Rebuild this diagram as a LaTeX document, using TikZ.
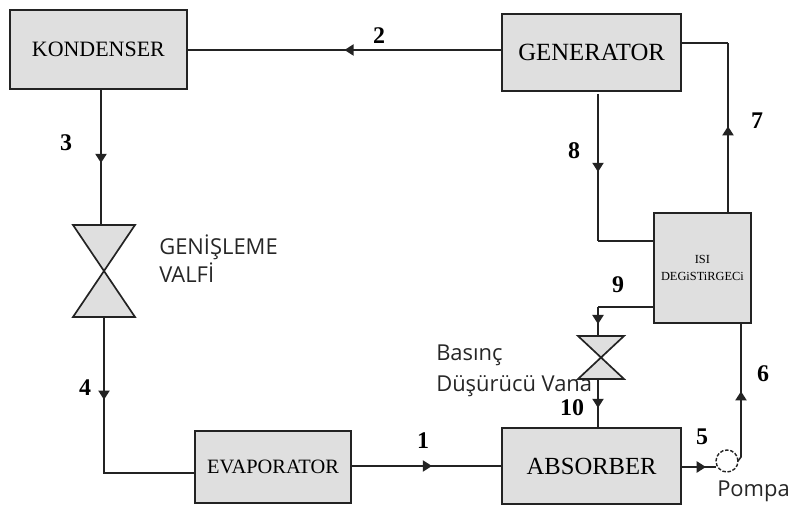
\documentclass[tikz,border=0pt]{standalone}
\usepackage{fontspec}
\setmainfont{Liberation Serif}
\newfontfamily\labelfont{Open Sans}
\usetikzlibrary{arrows.meta,decorations.markings}
\definecolor{boxgray}{RGB}{223,223,223}
\definecolor{linegray}{RGB}{35,35,35}
\tikzset{
    unit/.style={draw=linegray, line width=1.2pt, fill=boxgray, inner sep=0pt, outer sep=0pt, align=center},
    pipe/.style={draw=linegray, line width=1.1pt},
    flow/.style={pipe, postaction={decorate}, decoration={markings, mark=at position #1 with {\arrow{Triangle[width=8pt,length=6.5pt]}}}},
    num/.style={font=\fontsize{17}{17}\selectfont\bfseries, inner sep=0pt},
    note/.style={font=\labelfont\fontsize{15.6}{15.6}\selectfont, inner sep=0pt, anchor=base west, text=black!85},
    valve/.style={minimum width=#1, inner sep=0pt, outer sep=0pt}
}
\begin{document}
\begin{tikzpicture}
    \useasboundingbox (0, 0) rectangle (19.75, 12.625);

    \node[unit, minimum width=4.425cm, minimum height=1.975cm, font=\fontsize{15.6}{15.6}\selectfont] (kondenser) at (2.46, 11.39) {KONDENSER};
    \node[unit, minimum width=4.475cm, minimum height=1.925cm, font=\fontsize{17.6}{17.6}\selectfont] (generator) at (14.79, 11.31) {GENERATOR};
    \node[unit, minimum width=2.425cm, minimum height=2.75cm, font=\fontsize{8.8}{12}\selectfont] (esanjor) at (17.56, 5.925) {ISI\\DEGiSTiRGECi};
    \node[unit, minimum width=4.475cm, minimum height=1.9cm, font=\fontsize{17.5}{17.5}\selectfont] (absorber) at (14.79, 0.975) {ABSORBER};
    \node[unit, minimum width=3.9cm, minimum height=1.8cm, font=\fontsize{14.5}{14.5}\selectfont] (evaporator) at (6.825, 0.95) {EVAPORATOR};

    % valves
    \node[valve=1.55cm, minimum height=2.3cm] (genvalve) at (2.6, 5.85) {};
    \node[valve=1.15cm, minimum height=1.075cm] (dropvalve) at (15.025, 3.6875) {};
    \draw[unit] (genvalve.north west) -- (genvalve.north east) -- (genvalve.south west) -- (genvalve.south east) -- cycle;
    \draw[unit] (dropvalve.north west) -- (dropvalve.north east) -- (dropvalve.south west) -- (dropvalve.south east) -- cycle;

    % pump
    \node[circle, draw=linegray, dash pattern=on 2.5pt off 1.2pt, line width=1pt, fill=white, minimum size=0.55cm, inner sep=0pt, outer sep=0pt] (pompa) at (18.175, 1.1) {};

    % bends and ends of the pipes
    \coordinate (kout) at (2.525, 10.4);
    \coordinate (evapin) at (2.6, 0.8);
    \coordinate (gleft) at (12.55, 11.375);
    \coordinate (kright) at (4.675, 11.375);
    \coordinate (gdown) at (14.95, 10.275);
    \coordinate (hleft) at (16.35, 6.6);
    \coordinate (hbend) at (14.95, 6.6);
    \coordinate (htop) at (18.2, 7.3);
    \coordinate (gbend) at (18.2, 11.55);
    \coordinate (gright) at (17.025, 11.55);
    \coordinate (hlow) at (16.35, 4.95);
    \coordinate (vbend) at (14.95, 4.95);
    \coordinate (vtop) at (14.95, 4.225);
    \coordinate (vlow) at (14.95, 3.15);
    \coordinate (atop) at (14.95, 1.925);
    \coordinate (hbot) at (18.525, 4.55);
    \coordinate (pumpout) at (18.525, 1.2);
    \coordinate (evapout) at (8.775, 0.975);
    \coordinate (absin) at (12.55, 0.975);
    \coordinate (absout) at (17.025, 0.95);
    \coordinate (pumpin) at (17.9, 0.95);

    \draw[flow=0.5] (gleft) -- (kright);
    \draw[flow=0.544] (kout) -- (genvalve.north -| kout);
    \draw[pipe] (genvalve.south) -- (evapin) -- (evapin -| evaporator.west);
    \path[flow=0.53] (genvalve.south) -- (evapin);
    \draw[flow=0.536] (evapout) -- (absin);
    \draw[flow=0.71] (absout) -- (pumpin);
    \draw[pipe] (pompa.east) -- (pumpout) -- (hbot);
    \path[flow=0.49] (pumpout) -- (hbot);
    \draw[flow=0.51] (htop) -- (gbend);
    \draw[pipe] (gbend) -- (gright);
    \draw[flow=0.53] (gdown) -- (hbend);
    \draw[pipe] (hbend) -- (hleft);
    \draw[pipe] (hlow) -- (vbend);
    \draw[flow=0.59] (vbend) -- (vtop);
    \draw[flow=0.59] (vlow) -- (atop);

    % stream numbers
    \node[num] (n1) at (10.575, 1.6) {1};
    \node[num] (n2) at (9.475, 11.725) {2};
    \node[num] (n3) at (1.65, 9.05) {3};
    \node[num] (n4) at (2.125, 2.925) {4};
    \node[num] (n5) at (17.55, 1.7) {5};
    \node[num] (n6) at (19.075, 3.275) {6};
    \node[num] (n7) at (18.925, 9.6) {7};
    \node[num] (n8) at (14.35, 8.85) {8};
    \node[num] (n9) at (15.45, 5.5) {9};
    \node[num] (n10) at (14.3, 2.425) {10};

    \node[note] (genlabel) at (3.975, 6.25) {GENİŞLEME};
    \node[note] (vallabel) at (3.975, 5.55) {VALFİ};
    \node[note] (baslabel) at (10.9, 3.6) {Basınç};
    \node[note] (dusuruculabel) at (10.9, 2.825) {Düşürücü Vana};
    \node[note] (pumplabel) at (17.925, 0.2) {Pompa};
\end{tikzpicture}
\end{document}
